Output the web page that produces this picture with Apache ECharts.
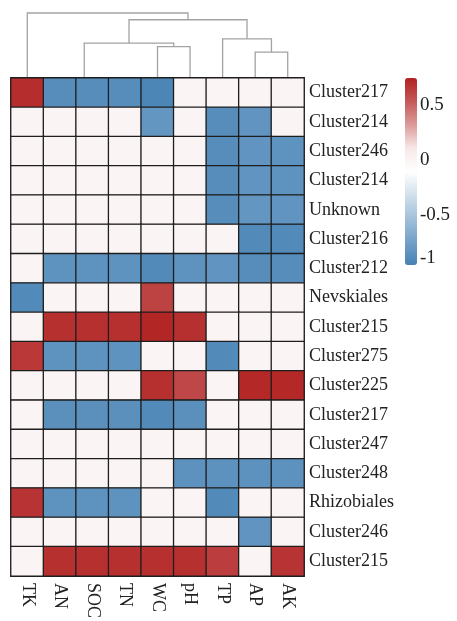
<!DOCTYPE html>
<html>
<head>
<meta charset="utf-8">
<style>
  html, body { margin: 0; padding: 0; background: #ffffff; }
  #chart { width: 457px; height: 621px; }
</style>
<script src="https://cdn.jsdelivr.net/npm/echarts@6/dist/echarts.min.js"></script>
</head>
<body>
<div id="chart"></div>
<script>
// Soil properties (columns, in dendrogram order)
const colLabels = ['TK', 'AN', 'SOC', 'TN', 'WC', 'pH', 'TP', 'AP', 'AK'];

// Taxa (rows, top to bottom)
const rowLabels = [
  'Cluster217', 'Cluster214', 'Cluster246', 'Cluster214', 'Unknown',
  'Cluster216', 'Cluster212', 'Nevskiales', 'Cluster215', 'Cluster275',
  'Cluster225', 'Cluster217', 'Cluster247', 'Cluster248', 'Rhizobiales',
  'Cluster246', 'Cluster215'
];

// Correlation coefficients (0 = not significant), one row per taxon
const corr = [
  [ 0.70, -0.88, -0.88, -0.88, -0.93,  0,     0,     0,     0    ],
  [ 0,     0,     0,     0,    -0.82,  0,    -0.88, -0.83,  0    ],
  [ 0,     0,     0,     0,     0,     0,    -0.88, -0.83, -0.84 ],
  [ 0,     0,     0,     0,     0,     0,    -0.88, -0.83, -0.84 ],
  [ 0,     0,     0,     0,     0,     0,    -0.88, -0.82, -0.83 ],
  [ 0,     0,     0,     0,     0,     0,     0,    -0.90, -0.90 ],
  [ 0,    -0.84, -0.84, -0.84, -0.90, -0.84, -0.83, -0.88, -0.88 ],
  [-0.90,  0,     0,     0,     0.62,  0,     0,     0,     0    ],
  [ 0,     0.69,  0.69,  0.69,  0.73,  0.69,  0,     0,     0    ],
  [ 0.66, -0.84, -0.84, -0.84,  0,     0,    -0.90,  0,     0    ],
  [ 0,     0,     0,     0,     0.69,  0.60,  0,     0.72,  0.72 ],
  [ 0,    -0.86, -0.86, -0.86, -0.90, -0.86,  0,     0,     0    ],
  [ 0,     0,     0,     0,     0,     0,     0,     0,     0    ],
  [ 0,     0,     0,     0,     0,    -0.85, -0.85, -0.85, -0.85 ],
  [ 0.68, -0.84, -0.84, -0.84,  0,     0,    -0.90,  0,     0    ],
  [ 0,     0,     0,     0,     0,     0,     0,    -0.83,  0    ],
  [ 0,     0.69,  0.69,  0.69,  0.69,  0.69,  0.64,  0,     0.68 ]
];

// Column clustering (hclust style: negative = leaf number, positive = earlier merge)
const dendroMerge = [[-3, -4], [-2, 1], [-8, -9], [-5, -6], [2, 4], [-7, 3], [5, 6], [-1, 7]];
const dendroHeight = [0, 0, 0.397, 0.484, 0.536, 0.603, 0.896, 1.0];

// Colour scale range and legend ticks
const scaleMin = -0.955;
const scaleMax = 0.745;
const legendTicks = [0.5, 0, -0.5, -1];

const FONT = '"Liberation Serif", "Times New Roman", serif';

// heatmap cells [col, row, value]
const cells = [];
corr.forEach((row, r) => row.forEach((v, c) => cells.push([c, r, v])));

// dendrogram segments: [xLeft, hLeft, xRight, hRight, h]
const nodeX = [], nodeH = [];
function childPos(id) {
  if (id < 0) return [-id - 1 + 0.5, 0];
  return [nodeX[id - 1], nodeH[id - 1]];
}
const segs = dendroMerge.map((m, i) => {
  const a = childPos(m[0]);
  const b = childPos(m[1]);
  nodeX.push((a[0] + b[0]) / 2);
  nodeH.push(dendroHeight[i]);
  return [a[0], a[1], b[0], b[1], dendroHeight[i]];
});

const lowestTick = Math.min.apply(null, legendTicks);

const chart = echarts.init(document.getElementById('chart'), null, { renderer: 'canvas' });

chart.setOption({
  backgroundColor: '#ffffff',
  animation: false,
  textStyle: { fontFamily: FONT },
  grid: [
    { left: 11, top: 78, width: 293, height: 512, show: true, borderColor: '#222', borderWidth: 1.2, backgroundColor: 'transparent' },
    { left: 11, top: 13, width: 293, height: 65 },
    { left: 405, top: 78, width: 12, height: 192 }
  ],
  xAxis: [
    {
      type: 'category', gridIndex: 0, data: colLabels, position: 'bottom',
      axisLine: { show: false }, axisTick: { show: false }, splitLine: { show: false },
      axisLabel: { rotate: -90, margin: 7, fontSize: 18, color: '#222', fontFamily: FONT, interval: 0 }
    },
    { type: 'value', gridIndex: 1, min: 0, max: 9, show: false },
    { type: 'value', gridIndex: 2, min: 0, max: 1, show: false }
  ],
  yAxis: [
    {
      type: 'category', gridIndex: 0, data: rowLabels, inverse: true, position: 'right',
      axisLine: { show: false }, axisTick: { show: false }, splitLine: { show: false },
      axisLabel: { margin: 5, fontSize: 18, color: '#222', fontFamily: FONT, interval: 0 }
    },
    { type: 'value', gridIndex: 1, min: 0, max: 1, show: false },
    {
      type: 'value', gridIndex: 2, min: -1, max: scaleMax, position: 'right',
      axisLine: { show: false }, axisTick: { show: false }, splitLine: { show: false },
      axisLabel: {
        customValues: legendTicks, margin: 3, fontSize: 19, color: '#222', fontFamily: FONT,
        // the lowest tick text sits just inside the end of the colour bar
        formatter: v => (v === lowestTick ? '{end|' + v + '}' : String(v)),
        rich: {
          end: { fontSize: 19, color: '#222', fontFamily: FONT, padding: [0, 0, 24, 0] }
        }
      }
    }
  ],
  visualMap: {
    type: 'continuous',
    seriesIndex: 0,
    min: scaleMin,
    max: scaleMax,
    calculable: false,
    left: 405,
    top: 78,
    padding: 0,
    itemWidth: 12,
    itemHeight: 187,
    text: null,
    showLabel: false,
    inRange: {
      color: ['#4682B4', '#74A1C9', '#A2C1DA', '#D1E0EC', '#FFFFFF',
              '#F7E8E8', '#DC9A9A', '#C55858', '#B22222']
    }
  },
  series: [
    {
      type: 'heatmap',
      xAxisIndex: 0, yAxisIndex: 0,
      data: cells,
      z: 3,
      itemStyle: { borderColor: '#1e1e1e', borderWidth: 1.3 },
      emphasis: { disabled: true },
      label: { show: false }
    },
    {
      type: 'custom',
      xAxisIndex: 1, yAxisIndex: 1,
      data: segs,
      z: 1,
      silent: true,
      encode: { x: [0, 2], y: [1, 3, 4] },
      renderItem: function (params, api) {
        const xl = api.value(0), hl = api.value(1), xr = api.value(2), hr = api.value(3), h = api.value(4);
        const pts = [
          api.coord([xl, hl]), api.coord([xl, h]),
          api.coord([xr, h]), api.coord([xr, hr])
        ];
        return {
          type: 'polyline',
          shape: { points: pts },
          style: { stroke: '#a3a3a3', lineWidth: 1.3, fill: null }
        };
      }
    }
  ]
});
</script>
</body>
</html>
